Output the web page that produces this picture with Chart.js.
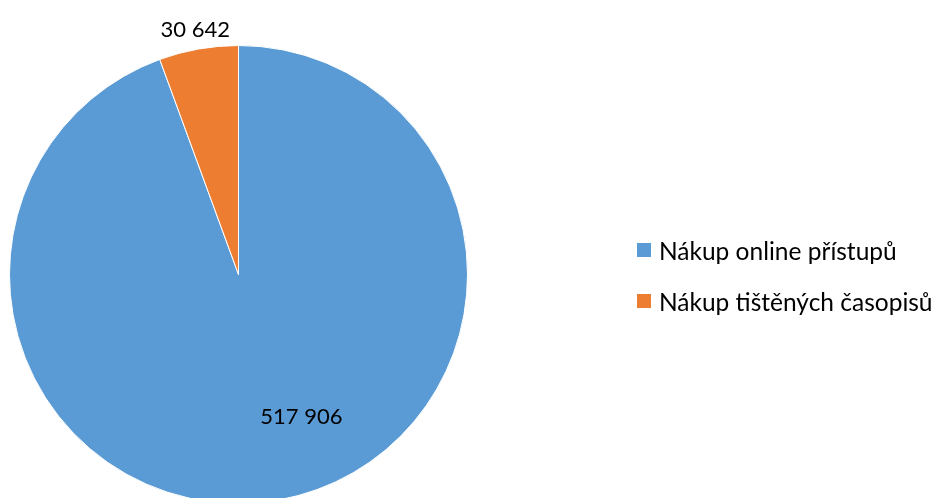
<!DOCTYPE html>
<html>
<head>
<meta charset="utf-8">
<script src="https://cdn.jsdelivr.net/npm/chart.js@4.4.0/dist/chart.umd.min.js"></script>
<style>
    html, body { margin: 0; padding: 0; background: #fff; overflow: hidden; }
    #wrap { position: absolute; left: 0; top: 0; width: 936px; height: 504px; }
    #legend { position: absolute; left: 637px; top: 235px; font-family: Lato, sans-serif; font-size: 24.5px; color: #000; }
    .item { display: flex; align-items: center; height: 30px; margin-bottom: 21px; white-space: nowrap; }
    .box { width: 14px; height: 14px; margin-right: 8px; }
</style>
</head>
<body>
<div id="wrap"><canvas id="chart"></canvas></div>
<div id="legend"></div>
<script>
// Data
const categories = ['Nákup online přístupů', 'Nákup tištěných časopisů'];
const values = [517906, 30642];
const colors = ['#5B9BD5', '#ED7D31'];

function fmt(n) {
    return String(n).replace(/\B(?=(\d{3})+(?!\d))/g, ' ');
}

// value labels, placed from the arc geometry
const labelPlugin = {
    id: 'valueLabels',
    afterDatasetsDraw(chart) {
        const ctx = chart.ctx;
        const arcs = chart.getDatasetMeta(0).data;
        ctx.save();
        ctx.font = '22px Lato, sans-serif';
        ctx.fillStyle = '#000';
        ctx.textAlign = 'center';
        ctx.textBaseline = 'middle';
        arcs.forEach((arc, i) => {
            const p = arc.getProps(['x', 'y', 'startAngle', 'endAngle', 'outerRadius'], true);
            let mid = (p.startAngle + p.endAngle) / 2;
            let r;
            if (i === 0) {
                // Excel "best fit" puts the big one inside, a bit off the middle
                mid -= 0.24;
                r = p.outerRadius * 0.68;
            } else {
                r = p.outerRadius + 19;
            }
            ctx.fillText(fmt(values[i]), p.x + Math.cos(mid) * r, p.y + Math.sin(mid) * r);
        });
        ctx.restore();
    }
};

const chart = new Chart(document.getElementById('chart'), {
    type: 'pie',
    data: {
        labels: categories,
        datasets: [{ data: values, backgroundColor: colors, borderColor: '#fff', borderWidth: 1 }]
    },
    options: {
        responsive: true,
        maintainAspectRatio: false,
        animation: false,
        layout: { padding: { left: 9, top: 45, right: 468, bottom: 0 } },
        plugins: { legend: { display: false }, tooltip: { enabled: false } }
    },
    plugins: [labelPlugin]
});

// legend
const legend = document.getElementById('legend');
categories.forEach((c, i) => {
    const item = document.createElement('div');
    item.className = 'item';
    item.innerHTML = `<span class="box" style="background:${colors[i]}"></span><span>${c}</span>`;
    legend.appendChild(item);
});
</script>
</body>
</html>
